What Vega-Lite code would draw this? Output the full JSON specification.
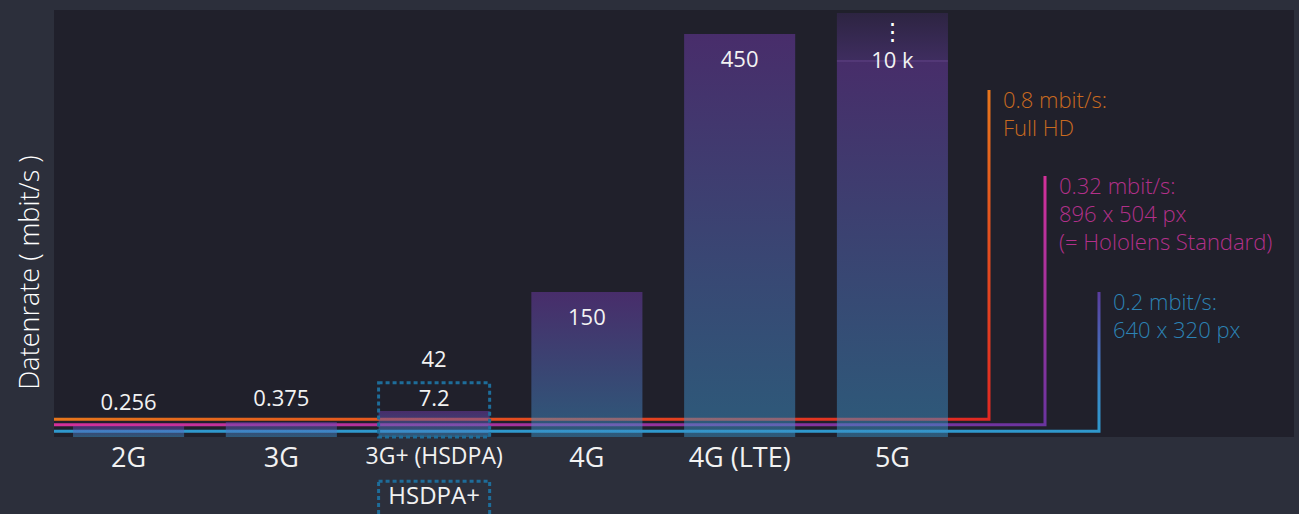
{
  "$schema": "https://vega.github.io/schema/vega-lite/v6.json",
  "width": 1240,
  "height": 427,
  "autosize": {"type": "none"},
  "padding": {"left": 54, "top": 10, "right": 5, "bottom": 77},
  "background": "#2c2f3b",
  "config": {
    "view": {"fill": "#20202b", "stroke": null},
    "font": "Open Sans",
    "axisY": {"domain": false, "ticks": false, "labels": false, "grid": false, "titleColor": "#ffffff", "titleFontSize": 27, "titleFontWeight": 300, "titleFont": "Open Sans", "titleX": -24, "titleY": 262, "titleAngle": -90, "titleAlign": "center", "titleBaseline": "middle"}
  },
  "datasets": {
    "netze": [
      {"Generation": "2G", "Variante": "2G", "Datenrate": 0.256, "Wert": "0.256"},
      {"Generation": "3G", "Variante": "3G", "Datenrate": 0.375, "Wert": "0.375"},
      {"Generation": "3G+ (HSDPA)", "Variante": "HSDPA", "Datenrate": 7.2, "Wert": "7.2"},
      {"Generation": "3G+ (HSDPA)", "Variante": "HSDPA+", "Datenrate": 42, "Wert": "42"},
      {"Generation": "4G", "Variante": "4G", "Datenrate": 150, "Wert": "150"},
      {"Generation": "4G (LTE)", "Variante": "LTE", "Datenrate": 450, "Wert": "450"},
      {"Generation": "5G", "Variante": "5G", "Datenrate": 10000, "Wert": "10 k"}
    ],
    "pfade": [
      {"Schwelle": "Full HD", "Punkt": 1, "Stelle": 0, "Höhe": 0.8},
      {"Schwelle": "Full HD", "Punkt": 2, "Stelle": 0.8, "Höhe": 0.8},
      {"Schwelle": "Full HD", "Punkt": 3, "Stelle": 0.8, "Höhe": 385},
      {"Schwelle": "Hololens", "Punkt": 1, "Stelle": 0, "Höhe": 0.32},
      {"Schwelle": "Hololens", "Punkt": 2, "Stelle": 0.32, "Höhe": 0.32},
      {"Schwelle": "Hololens", "Punkt": 3, "Stelle": 0.32, "Höhe": 285},
      {"Schwelle": "640 x 320", "Punkt": 1, "Stelle": 0, "Höhe": 0.2},
      {"Schwelle": "640 x 320", "Punkt": 2, "Stelle": 0.2, "Höhe": 0.2},
      {"Schwelle": "640 x 320", "Punkt": 3, "Stelle": 0.2, "Höhe": 150}
    ],
    "schwellen": [
      {"Schwelle": "Full HD", "Stelle": 0.8, "Höhe": 385, "Text": "0.8 mbit/s:\nFull HD"},
      {"Schwelle": "Hololens", "Stelle": 0.32, "Höhe": 285, "Text": "0.32 mbit/s:\n896 x 504 px\n(= Hololens Standard)"},
      {"Schwelle": "640 x 320", "Stelle": 0.2, "Höhe": 150, "Text": "0.2 mbit/s:\n640 x 320 px"}
    ]
  },
  "resolve": {"scale": {"x": "independent"}},
  "layer": [
    {
      "encoding": {
        "x": {"field": "Stelle", "type": "quantitative", "scale": {"type": "linear", "domain": [0, 0.2, 0.32, 0.8], "range": [0, 1045, 991, 935], "nice": false, "zero": false}, "axis": null}
      },
      "layer": [
        {
          "data": {"name": "pfade"},
          "transform": [{"filter": "datum.Schwelle == 'Full HD'"}],
          "mark": {"type": "line", "strokeWidth": 3, "strokeJoin": "miter", "strokeCap": "butt",
            "stroke": {"gradient": "linear", "x1": 0, "y1": 0, "x2": 1, "y2": 1, "stops": [{"offset": 0.5, "color": "#e8761c"}, {"offset": 0.72, "color": "#e4501f"}, {"offset": 1, "color": "#e02822"}]}},
          "encoding": {
            "y": {"field": "Höhe", "type": "quantitative", "title": "Datenrate ( mbit/s )", "scale": {"type": "linear", "domain": [0, 0.2, 0.256, 0.32, 0.375, 0.8, 7.2, 42, 150, 450, 10000], "range": [427, 421.3, 416, 414.7, 412, 409.3, 401, 372.7, 282, 24, 3], "nice": false, "zero": false}},
            "order": {"field": "Punkt", "type": "quantitative"}
          }
        },
        {
          "data": {"name": "pfade"},
          "transform": [{"filter": "datum.Schwelle == 'Hololens'"}],
          "mark": {"type": "line", "strokeWidth": 3, "strokeJoin": "miter", "strokeCap": "butt",
            "stroke": {"gradient": "linear", "x1": 0, "y1": 0, "x2": 1, "y2": 1, "stops": [{"offset": 0.5, "color": "#d4309a"}, {"offset": 1, "color": "#6a34a0"}]}},
          "encoding": {
            "y": {"field": "Höhe", "type": "quantitative", "title": "Datenrate ( mbit/s )", "scale": {"type": "linear", "domain": [0, 0.2, 0.256, 0.32, 0.375, 0.8, 7.2, 42, 150, 450, 10000], "range": [427, 421.3, 416, 414.7, 412, 409.3, 401, 372.7, 282, 24, 3], "nice": false, "zero": false}},
            "order": {"field": "Punkt", "type": "quantitative"}
          }
        },
        {
          "data": {"name": "pfade"},
          "transform": [{"filter": "datum.Schwelle == '640 x 320'"}],
          "mark": {"type": "line", "strokeWidth": 3, "strokeJoin": "miter", "strokeCap": "butt",
            "stroke": {"gradient": "linear", "x1": 0, "y1": 1, "x2": 0, "y2": 0, "stops": [{"offset": 0, "color": "#2f98cc"}, {"offset": 0.35, "color": "#3b88c8"}, {"offset": 1, "color": "#5a3c9e"}]}},
          "encoding": {
            "y": {"field": "Höhe", "type": "quantitative", "title": "Datenrate ( mbit/s )", "scale": {"type": "linear", "domain": [0, 0.2, 0.256, 0.32, 0.375, 0.8, 7.2, 42, 150, 450, 10000], "range": [427, 421.3, 416, 414.7, 412, 409.3, 401, 372.7, 282, 24, 3], "nice": false, "zero": false}},
            "order": {"field": "Punkt", "type": "quantitative"}
          }
        },
        {
          "data": {"name": "schwellen"},
          "mark": {"type": "text", "align": "left", "baseline": "top", "dx": 14, "dy": 1, "fontSize": 22, "lineHeight": 28, "lineBreak": "\n", "font": "Open Sans", "fontWeight": 300},
          "encoding": {
            "y": {"field": "Höhe", "type": "quantitative", "title": "Datenrate ( mbit/s )", "scale": {"type": "linear", "domain": [0, 0.2, 0.256, 0.32, 0.375, 0.8, 7.2, 42, 150, 450, 10000], "range": [427, 421.3, 416, 414.7, 412, 409.3, 401, 372.7, 282, 24, 3], "nice": false, "zero": false}},
            "text": {"field": "Text", "type": "nominal"},
            "color": {"field": "Schwelle", "type": "nominal", "scale": {"domain": ["Full HD", "Hololens", "640 x 320"], "range": ["#c96a20", "#b3308a", "#2c82b4"]}, "legend": null}
          }
        }
      ]
    },
    {
      "data": {"name": "netze"},
      "encoding": {
        "x": {"field": "Generation", "type": "nominal", "sort": null,
          "scale": {"type": "band", "domain": ["2G", "3G", "3G+ (HSDPA)", "4G", "4G (LTE)", "5G"], "range": [3, 910], "paddingInner": 0.273, "paddingOuter": 0.105},
          "axis": {"title": null, "domain": false, "ticks": false, "grid": false, "labelAngle": 0, "labelColor": "#f2f2f2", "labelFont": "Open Sans", "labelPadding": 8,
            "labelFontSize": {"condition": {"test": "datum.value == '3G+ (HSDPA)'", "value": 23}, "value": 27}}}
      },
      "layer": [
        {
          "transform": [{"filter": "datum.Variante != 'HSDPA+' && datum.Variante != '5G'"}],
          "mark": {"type": "bar", "fillOpacity": 0.5,
            "fill": {"gradient": "linear", "x1": 0, "y1": 1, "x2": 0, "y2": 0, "stops": [{"offset": 0, "color": "#3a94c8"}, {"offset": 1, "color": "#703aaa"}]}},
          "encoding": {
            "y": {"field": "Datenrate", "type": "quantitative", "stack": null, "title": "Datenrate ( mbit/s )", "scale": {"type": "linear", "domain": [0, 0.2, 0.256, 0.32, 0.375, 0.8, 7.2, 42, 150, 450, 10000], "range": [427, 421.3, 416, 414.7, 412, 409.3, 401, 372.7, 282, 24, 3], "nice": false, "zero": false}},
            "y2": {"datum": 0}
          }
        },
        {
          "transform": [{"filter": "datum.Variante == '5G'"}],
          "mark": {"type": "bar", "fillOpacity": 0.5,
            "fill": {"gradient": "linear", "x1": 0, "y1": 1, "x2": 0, "y2": 0, "stops": [{"offset": 0, "color": "#3a94c8"}, {"offset": 0.884, "color": "#6e3ba8"}, {"offset": 0.885, "color": "#8650c2"}, {"offset": 0.889, "color": "#8650c2"}, {"offset": 0.89, "color": "#5c3a92"}, {"offset": 1, "color": "#3a2858"}]}},
          "encoding": {
            "y": {"field": "Datenrate", "type": "quantitative", "stack": null, "title": "Datenrate ( mbit/s )", "scale": {"type": "linear", "domain": [0, 0.2, 0.256, 0.32, 0.375, 0.8, 7.2, 42, 150, 450, 10000], "range": [427, 421.3, 416, 414.7, 412, 409.3, 401, 372.7, 282, 24, 3], "nice": false, "zero": false}},
            "y2": {"datum": 0}
          }
        },
        {
          "transform": [{"filter": "datum.Variante == 'HSDPA+'"}],
          "mark": {"type": "bar", "fill": "#000000", "fillOpacity": 0, "stroke": "#1e6d9a", "strokeWidth": 3, "strokeDash": [4, 3]},
          "encoding": {
            "y": {"field": "Datenrate", "type": "quantitative", "stack": null, "title": "Datenrate ( mbit/s )", "scale": {"type": "linear", "domain": [0, 0.2, 0.256, 0.32, 0.375, 0.8, 7.2, 42, 150, 450, 10000], "range": [427, 421.3, 416, 414.7, 412, 409.3, 401, 372.7, 282, 24, 3], "nice": false, "zero": false}},
            "y2": {"datum": 0}
          }
        },
        {
          "transform": [{"filter": "datum.Variante == 'HSDPA+'"}],
          "mark": {"type": "bar", "fill": "#000000", "fillOpacity": 0, "stroke": "#1e6d9a", "strokeWidth": 3, "strokeDash": [4, 3], "clip": false},
          "encoding": {
            "y": {"datum": -1.55, "type": "quantitative", "title": "Datenrate ( mbit/s )", "scale": {"type": "linear", "domain": [0, 0.2, 0.256, 0.32, 0.375, 0.8, 7.2, 42, 150, 450, 10000], "range": [427, 421.3, 416, 414.7, 412, 409.3, 401, 372.7, 282, 24, 3], "nice": false, "zero": false}},
            "y2": {"datum": -4}
          }
        },
        {
          "transform": [{"filter": "datum.Variante == 'HSDPA+'"}],
          "mark": {"type": "text", "baseline": "middle", "fontSize": 24, "color": "#f2f2f2", "font": "Open Sans"},
          "encoding": {
            "y": {"datum": -2.1, "type": "quantitative", "title": "Datenrate ( mbit/s )", "scale": {"type": "linear", "domain": [0, 0.2, 0.256, 0.32, 0.375, 0.8, 7.2, 42, 150, 450, 10000], "range": [427, 421.3, 416, 414.7, 412, 409.3, 401, 372.7, 282, 24, 3], "nice": false, "zero": false}},
            "text": {"field": "Variante", "type": "nominal"}
          }
        },
        {
          "transform": [{"filter": "datum.Variante == '2G' || datum.Variante == '3G' || datum.Variante == 'HSDPA+'"}],
          "mark": {"type": "text", "baseline": "middle", "dy": -23, "fontSize": 22, "color": "#f2f2f2", "font": "Open Sans"},
          "encoding": {
            "y": {"field": "Datenrate", "type": "quantitative", "title": "Datenrate ( mbit/s )", "scale": {"type": "linear", "domain": [0, 0.2, 0.256, 0.32, 0.375, 0.8, 7.2, 42, 150, 450, 10000], "range": [427, 421.3, 416, 414.7, 412, 409.3, 401, 372.7, 282, 24, 3], "nice": false, "zero": false}},
            "text": {"field": "Wert", "type": "nominal"}
          }
        },
        {
          "transform": [{"filter": "datum.Variante == 'HSDPA'"}],
          "mark": {"type": "text", "baseline": "middle", "dy": -12, "fontSize": 22, "color": "#f2f2f2", "font": "Open Sans"},
          "encoding": {
            "y": {"field": "Datenrate", "type": "quantitative", "title": "Datenrate ( mbit/s )", "scale": {"type": "linear", "domain": [0, 0.2, 0.256, 0.32, 0.375, 0.8, 7.2, 42, 150, 450, 10000], "range": [427, 421.3, 416, 414.7, 412, 409.3, 401, 372.7, 282, 24, 3], "nice": false, "zero": false}},
            "text": {"field": "Wert", "type": "nominal"}
          }
        },
        {
          "transform": [{"filter": "datum.Variante == '4G' || datum.Variante == 'LTE'"}],
          "mark": {"type": "text", "baseline": "middle", "dy": 26, "fontSize": 22, "color": "#f2f2f2", "font": "Open Sans"},
          "encoding": {
            "y": {"field": "Datenrate", "type": "quantitative", "title": "Datenrate ( mbit/s )", "scale": {"type": "linear", "domain": [0, 0.2, 0.256, 0.32, 0.375, 0.8, 7.2, 42, 150, 450, 10000], "range": [427, 421.3, 416, 414.7, 412, 409.3, 401, 372.7, 282, 24, 3], "nice": false, "zero": false}},
            "text": {"field": "Wert", "type": "nominal"}
          }
        },
        {
          "transform": [{"filter": "datum.Variante == '5G'"}],
          "mark": {"type": "text", "baseline": "middle", "dy": 48, "fontSize": 22, "color": "#f2f2f2", "font": "Open Sans"},
          "encoding": {
            "y": {"field": "Datenrate", "type": "quantitative", "title": "Datenrate ( mbit/s )", "scale": {"type": "linear", "domain": [0, 0.2, 0.256, 0.32, 0.375, 0.8, 7.2, 42, 150, 450, 10000], "range": [427, 421.3, 416, 414.7, 412, 409.3, 401, 372.7, 282, 24, 3], "nice": false, "zero": false}},
            "text": {"field": "Wert", "type": "nominal"}
          }
        },
        {
          "transform": [{"filter": "datum.Variante == '5G'"}],
          "mark": {"type": "text", "baseline": "middle", "dy": 20, "fontSize": 24, "color": "#ffffff", "font": "DejaVu Sans", "text": "⋮"},
          "encoding": {
            "y": {"field": "Datenrate", "type": "quantitative", "title": "Datenrate ( mbit/s )", "scale": {"type": "linear", "domain": [0, 0.2, 0.256, 0.32, 0.375, 0.8, 7.2, 42, 150, 450, 10000], "range": [427, 421.3, 416, 414.7, 412, 409.3, 401, 372.7, 282, 24, 3], "nice": false, "zero": false}}
          }
        }
      ]
    }
  ]
}
